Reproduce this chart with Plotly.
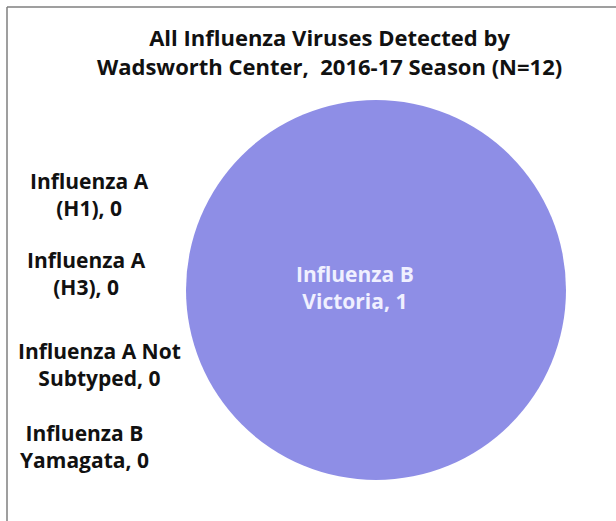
import plotly.graph_objects as go

categories = ["Influenza A (H1)", "Influenza A (H3)", "Influenza A Not Subtyped",
              "Influenza B Victoria", "Influenza B Yamagata"]
values = [0, 0, 0, 1, 0]
label_lines = {
    "Influenza A (H1)": ["Influenza A", "(H1), 0"],
    "Influenza A (H3)": ["Influenza A", "(H3), 0"],
    "Influenza A Not Subtyped": ["Influenza A Not", "Subtyped, 0"],
    "Influenza B Victoria": ["Influenza B", "Victoria, 1"],
    "Influenza B Yamagata": ["Influenza B", "Yamagata, 0"],
}
title_text = "All Influenza Viruses Detected by<br>Wadsworth Center,  2016-17 Season (N=12)"

W, H = 616, 521
FONT = "Open Sans"

fig = go.Figure(go.Pie(
    labels=categories,
    values=values,
    textinfo="none",
    sort=False,
    direction="clockwise",
    marker=dict(colors=["#4f81bd", "#c0504d", "#9bbb59", "#8e8ee6", "#4bacc6"],
                line=dict(width=0)),
    domain=dict(x=[186 / W, 566 / W], y=[(H - 480) / H, (H - 100) / H]),
    showlegend=False,
    hoverinfo="label+value",
))

# label positions (pixels) for each category
label_pos = {"Influenza A (H1)": (89, 195), "Influenza A (H3)": (86, 273),
             "Influenza A Not Subtyped": (99, 364), "Influenza B Victoria": (355, 287),
             "Influenza B Yamagata": (84, 446)}
annotations = []
for c, v in zip(categories, values):
    px, py = label_pos[c]
    annotations.append(dict(
        x=px / W, y=1 - py / H, xref="paper", yref="paper",
        text="<br>".join(label_lines[c]), showarrow=False,
        xanchor="center", yanchor="middle", align="center",
        font=dict(family=FONT, size=21, weight="bold",
                  color="#f0f0ff" if v > 0 else "#111111"),
    ))

fig.update_layout(
    width=W, height=H,
    margin=dict(l=0, r=0, t=0, b=0),
    paper_bgcolor="white",
    title=dict(text=title_text, x=0.535, xanchor="center", y=1 - 46 / H, yanchor="middle",
               font=dict(family=FONT, size=22, color="#111111", weight="bold")),
    annotations=annotations,
    shapes=[
        dict(type="line", xref="paper", yref="paper", x0=7 / W, x1=1, y0=1 - 7 / H, y1=1 - 7 / H,
             line=dict(color="#7f7f7f", width=1.5)),
        dict(type="line", xref="paper", yref="paper", x0=7 / W, x1=7 / W, y0=0, y1=1 - 7 / H,
             line=dict(color="#7f7f7f", width=1.5)),
    ],
)

fig.write_html("out.html", config={"displayModeBar": False},
               post_script="document.body.style.margin='0';")
